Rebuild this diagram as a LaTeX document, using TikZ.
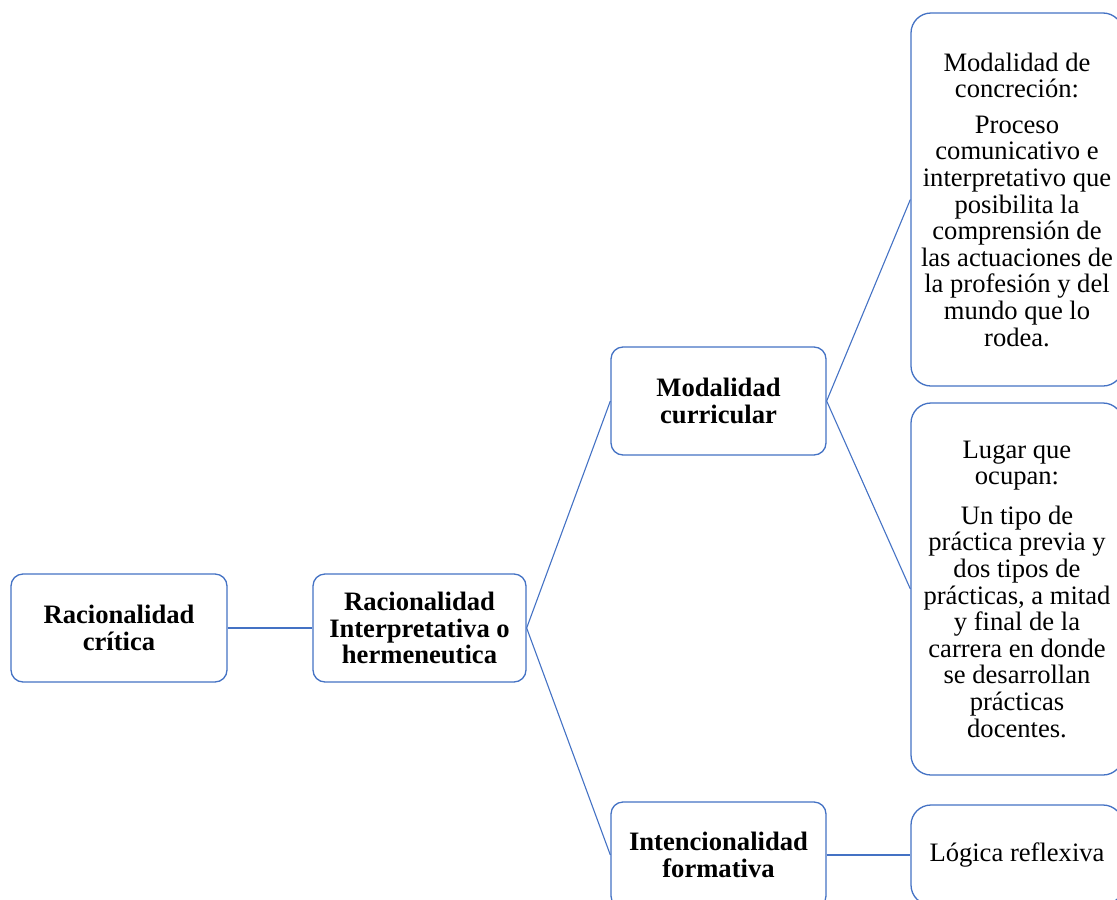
\documentclass[tikz,border=0pt]{standalone}
\usepackage{fontspec}
\setmainfont{Liberation Serif}
\definecolor{boxblue}{RGB}{68,114,196}
\begin{document}
\begin{tikzpicture}[x=1pt,y=-1pt,
  every node/.style={font=\fontsize{26.6}{26.6}\selectfont, align=center, inner sep=0pt},
  box/.style={draw=boxblue, line width=1.3pt, fill=white, rounded corners=12pt,
              minimum width=215pt, minimum height=108pt},
  bigbox/.style={draw=boxblue, line width=1.3pt, fill=white, rounded corners=20pt,
              minimum width=212pt},
  link/.style={draw=boxblue, line width=1.1pt}]
\useasboundingbox (0,0) rectangle (1117,900);

% left column: main concepts
\node[box, minimum width=216pt] (rc) at (119,628) {\bfseries Racionalidad\\\bfseries crítica};
\node[box, minimum width=213pt] (ri) at (419.5,628) {\bfseries Racionalidad\\\bfseries Interpretativa o\\\bfseries hermeneutica};
\node[box] (mc) at (718.5,401) {\bfseries Modalidad\\\bfseries curricular};
\node[box, minimum height=106pt] (inf) at (718.5,855) {\bfseries Intencionalidad\\\bfseries formativa};

% right column: descriptions
\node[bigbox, minimum height=373pt] (top) at (1017,199.5)
  {Modalidad de\\concreción:\\[9pt]Proceso\\comunicativo e\\interpretativo que\\posibilita la\\comprensión de\\las actuaciones de\\la profesión y del\\mundo que lo\\rodea.};
\node[bigbox, minimum height=372pt] (mid) at (1017,589)
  {Lugar que\\ocupan:\\[13pt]Un tipo de\\práctica previa y\\dos tipos de\\prácticas, a mitad\\y final de la\\carrera en donde\\se desarrollan\\prácticas\\docentes.};
\node[bigbox, minimum height=100pt] (lr) at (1017,855) {Lógica reflexiva};

% connectors
\draw[link] (rc.east) -- (ri.west);
\draw[link] (ri.east) -- (mc.west);
\draw[link] (ri.east) -- (inf.west);
\draw[link] (mc.east) -- (top.west);
\draw[link] (mc.east) -- (mid.west);
\draw[link] (inf.east) -- (lr.west);
\end{tikzpicture}
\end{document}
